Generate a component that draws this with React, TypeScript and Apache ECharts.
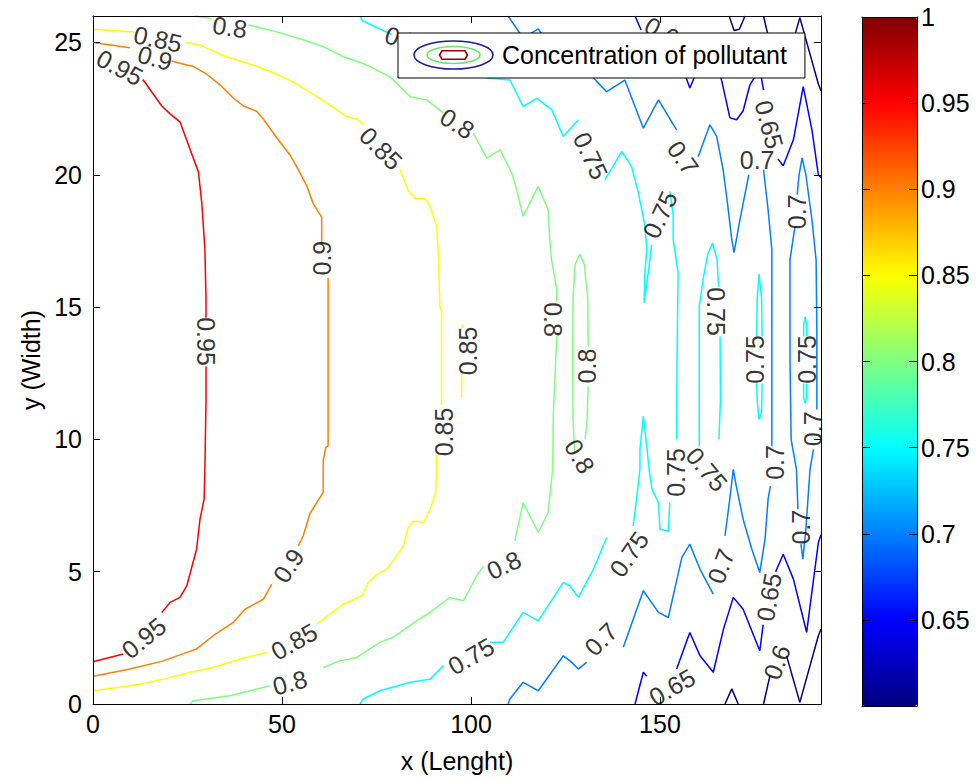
import React, { useEffect, useRef } from "react";
import * as echarts from "echarts";

const FONT = '"Liberation Sans", Arial, Helvetica, sans-serif';

// axis ranges
const xRange = [0, 192.6];
const yRange = [0, 26];
const cbRange = [0.6, 1];

// contour polylines per level (data units), split where inline labels sit
const c095 = [
  [[13.2,23.6],[18.2,22.6],[20.4,22.3],[23.0,22.0],[27.9,20.1],[28.8,18.9],[29.6,17.2],[29.9,15.3],[29.9,14.6]],
  [[29.9,12.75],[29.9,11.5],[29.6,8.87],[29.4,7.74],[28.3,6.98],[27.4,5.85],[24.8,4.46],[23.0,4.03],[20.4,3.84],[18.2,3.46]],
  [[8.0,1.89],[0,1.6]],
];
const l095 = [[7.1,24.06,-28],[29.9,13.7,-90],[13.4,2.5,39]];

const c090 = [
  [[0,25.0],[9.8,24.8]],
  [[20.8,24.3],[24.8,24.15],[26.5,24.1],[30.1,23.8],[33.6,23.4],[37.1,22.9],[39.8,22.6],[43.3,22.4],[45.1,22.1],[48.6,21.4],[52.1,20.75],[53.9,20.3],[56.5,19.6],[58.3,18.9],[60.5,18.4],[60.5,17.4]],
  [[62.2,16.1],[62.2,9.75],[61.6,9.7],[60.9,9.2],[60.9,8.0],[57.4,7.2],[55.6,6.35],[54.3,5.97]],
  [[47.3,4.53],[45.1,3.96],[40.2,3.58],[37.1,3.08],[31.8,2.58],[27.4,2.08],[24.8,1.95],[18.6,1.63],[9.8,1.32],[0,1.05]],
];
const l090 = [[16.4,24.42,-15],[60.6,16.85,90],[51.7,5.23,56]];

const c085 = [
  [[0,25.5],[10.7,25.4]],
  [[24.3,25.0],[28.3,24.9],[34.5,24.5],[38.9,24.3],[43.3,24.1],[48.6,23.8],[53.0,23.5],[56.5,23.2],[60.9,22.8],[64.5,22.45],[67.1,22.2],[69.8,22.1],[71.5,21.9]],
  [[81.2,20.2],[83.4,19.4],[85.2,19.1],[87.8,19.1],[89.2,18.8],[90.9,18.05],[91.3,17.2],[91.8,15.0],[92.2,14.9],[92.2,11.3]],
  [[90.9,9.4],[90.7,8.0],[89.2,7.36],[87.4,6.86],[84.7,6.92],[83.4,6.67],[82.1,5.97],[79.4,5.41],[77.7,5.09],[75.1,4.9],[72.8,4.59],[71.1,4.09],[66.2,3.77],[62.7,3.4],[60.9,3.2],[59.2,3.02]],
  [[46.0,1.95],[38.9,1.7],[31.8,1.38],[25.7,1.2],[18.6,0.94],[12.4,0.75],[4.5,0.59],[0,0.5]],
  [[97.6,12.45],[97.5,11.6]],
  [[97.7,14.35],[97.7,14.2]],
];
const l085 = [[17.2,25.13,-12],[76.2,21.0,-45],[92.9,10.28,90],[53.2,2.36,29],[99.3,13.34,90]];

const c080 = [
  [[27.0,26],[31.4,25.9]],
  [[41.1,25.66],[48.6,25.4],[55.6,25.1],[60.9,24.84],[66.2,24.46],[68.9,24.34],[72.4,24.15],[78.6,23.7],[83.9,22.95],[88.3,22.83],[90.0,22.64],[92.7,22.33]],
  [[100.6,21.57],[104.2,20.63],[107.7,20.94],[110.8,20.06],[111.6,19.69],[113.8,18.43],[117.8,19.56],[120.4,18.68],[120.9,17.42],[121.3,16.8],[122.7,15.66],[122.7,15.2]],
  [[122.7,13.9],[121.8,11.0],[121.6,8.87],[120.4,7.23],[117.8,6.48],[113.8,7.61],[111.6,6.16]],
  [[103.3,5.22],[101.5,4.84],[98.0,3.9],[94.4,4.03],[89.2,3.46],[85.6,3.14],[79.4,2.52],[75.9,2.33],[69.8,1.76],[65.3,1.63],[60.9,1.38]],
  [[46.8,0.69],[41.5,0.5],[36.2,0.31],[26.5,0.12],[25.7,0]],
  [[127.4,9.5],[127.0,10.8],[126.9,13.0],[127.0,15.3],[127.5,16.6],[128.8,17.0],[130.0,16.6],[130.9,15.3],[131.0,13.5]],
  [[131.0,12.0],[130.7,10.7],[130.2,10.0]],
];
const l080 = [[36.2,25.58,-8],[96.4,21.94,-32],[121.7,14.53,-90],[108.7,5.25,25],[52.1,0.81,15],[130.6,12.77,90],[128.8,9.36,-60]];

const c075 = [
  [[70.6,26.0],[71.4,25.81],[75.9,25.51],[79.0,25.3]],
  [[86.5,25.1],[89.2,25.06],[92.6,24.57],[98.4,24.11],[104.2,23.66],[110.3,23.58],[113.8,22.58],[117.4,22.89],[121.4,22.45],[124.4,21.45],[128.4,22.08]],
  [[135.4,19.81],[139.9,20.88],[142.5,20.31],[144.3,19.31],[146.0,18.11],[146.5,17.17],[146.0,16.29],[145.8,15.16],[146.9,16.29],[147.8,17.36]],
  [[152.6,19.37],[153.5,18.49],[153.5,17.55],[154.8,16.29],[154.5,13.02],[154.4,10.0]],
  [[152.6,7.61],[152.2,6.54],[150.0,6.6],[149.6,7.61],[147.9,8.11],[147.1,8.87],[146.6,9.62],[145.6,10.87],[144.7,9.62],[144.7,8.87],[143.8,7.74],[142.9,6.72]],
  [[135.9,6.29],[132.4,5.09],[128.4,4.03],[126.2,4.46],[124.4,4.59],[117.8,3.14],[113.8,3.46],[108.5,2.33],[105.0,2.33]],
  [[92.7,1.45],[89.2,0.94],[83.9,0.82],[75.9,0.5],[71.5,0.19],[70.6,0]],
  [[160.4,9.75],[160.4,15.03],[161.4,16.04],[162.6,16.98],[163.9,17.42],[165.1,16.79],[165.5,15.77]],
  [[165.9,13.89],[166.0,11.51],[165.6,10.0]],
  [[175.6,13.89],[175.7,15.28],[176.2,16.26],[176.9,15.28],[177.0,13.89]],
  [[177.0,12.11],[176.9,11.02],[176.2,10.75],[175.7,11.51],[175.6,12.11]],
  [[188.0,13.89],[188.0,14.34],[188.4,14.64],[188.8,14.34],[188.8,13.89]],
  [[188.8,12.11],[188.8,11.58],[188.4,11.36],[188.0,11.58],[188.0,12.11]],
];
const l075 = [[83.6,25.05,-18],[131.7,20.72,-65],[150.0,18.49,65],[154.2,8.75,90],[141.8,5.66,55],[100.0,1.81,30],[164.8,14.83,-90],[162.4,8.87,-50],[175.1,13.02,90],[188.8,13.02,90]];

const c070 = [
  [[109.8,0],[110.3,0.19],[113.8,0.82],[117.8,0.5],[124.4,1.82],[126.2,1.63],[128.4,1.32],[130.6,1.57]],
  [[140.3,2.14],[145.6,4.28],[149.6,3.46],[152.2,3.27],[155.8,5.54],[157.9,6.04],[160.6,5.09],[164.1,4.15]],
  [[167.2,6.35],[168.3,7.55],[169.4,8.87],[170.1,8.3],[172.0,6.98],[174.3,5.85],[176.4,4.97],[177.8,6.23],[178.6,7.74],[179.2,8.23]],
  [[179.6,9.74],[179.6,13.02],[179.6,17.17],[178.6,18.68],[177.4,20.19]],
  [[173.5,20.0],[172.2,19.06],[170.9,18.11],[169.6,17.06],[169.0,17.55],[167.9,18.87],[166.7,20.19],[165.0,21.45],[163.2,21.89],[160.1,20.68]],
  [[154.4,21.7],[149.6,22.83],[145.6,21.76],[140.7,23.58],[135.9,23.14],[133.3,23.52],[128.8,24.34],[124.4,24.19],[117.8,25.51],[113.8,25.17],[110.7,25.81],[109.8,26.0]],
  [[185.7,18.04],[184.4,16.79],[184.4,13.02],[184.7,10.0],[186.1,8.87],[186.5,7.36]],
  [[187.3,6.04],[187.8,5.47],[188.6,6.6],[189.7,8.87],[190.6,9.62]],
  [[191.5,11.13],[191.5,14.15],[191.3,16.79],[190.2,18.3],[188.6,20.0],[187.6,20.64],[186.8,20.0],[186.3,19.25]],
];
const l070 = [[134.4,2.45,45],[166.1,5.21,70],[180.4,9.13,90],[175.7,20.57,0],[156.1,20.64,-55],[187.3,6.68,90],[190.5,10.4,90],[186.2,18.6,90]];

const c065 = [
  [[143.4,0],[145.6,1.2],[146.5,1.05]],
  [[154.4,1.32],[157.9,2.7],[160.6,1.82],[164.1,1.2],[166.8,2.83],[169.4,4.03],[172.0,3.58],[176.4,2.01],[177.3,3.0]],
  [[180.6,5.0],[182.6,5.66],[185.3,4.72],[188.8,2.71],[191.9,6.1],[192.6,6.4]],
  [[143.4,26.0],[145.0,25.47]],
  [[154.4,24.68],[157.9,23.28],[160.6,24.19],[164.1,24.79],[166.4,23.51],[168.5,22.15],[170.3,22.08],[172.0,22.42],[173.8,23.4],[176.4,24.0],[177.4,23.2]],
  [[181.2,20.6],[182.6,20.34],[185.3,21.32],[187.9,23.33],[190.2,21.7],[191.9,20.0],[192.6,19.89]],
];
const l065 = [[153.2,0.64,30],[178.8,4.04,80],[152.1,25.28,-30],[178.9,21.9,-75]];

const c060 = [
  [[167.2,0],[169.0,0.57],[170.7,0]],
  [[177.4,0],[179.1,1.07]],
  [[183.5,1.82],[187.0,0.06],[191.9,2.58],[192.6,2.83]],
  [[168.3,26.0],[169.6,25.45],[171.0,25.5],[172.5,26.0]],
  [[177.4,26.0],[179.1,24.94]],
  [[183.5,24.19],[187.0,25.94],[191.9,23.43],[192.6,23.17]],
];
const l060 = [[180.9,1.58,70],[180.9,24.42,-70]];

const levels = [0.95, 0.9, 0.85, 0.8, 0.75, 0.7, 0.65, 0.6];
const levelLines = [c095, c090, c085, c080, c075, c070, c065, c060];
const levelLabels = [l095, l090, l085, l080, l075, l070, l065, l060];
const levelText = ["0.95", "0.9", "0.85", "0.8", "0.75", "0.7", "0.65", "0.6"];

const legendName = "Concentration of pollutant";

function clamp(v: number) { return Math.max(0, Math.min(1, v)); }
function jet(t: number) {
  const r = clamp(1.5 - Math.abs(4 * t - 3));
  const g = clamp(1.5 - Math.abs(4 * t - 2));
  const b = clamp(1.5 - Math.abs(4 * t - 1));
  return `rgb(${Math.round(r * 255)},${Math.round(g * 255)},${Math.round(b * 255)})`;
}

const iconSvg =
  "<svg xmlns='http://www.w3.org/2000/svg' width='84' height='30' viewBox='0 0 84 30'>" +
  "<ellipse cx='40.5' cy='15' rx='39.5' ry='14' fill='none' stroke='#1c1c9c' stroke-width='1.6'/>" +
  "<ellipse cx='40.5' cy='15' rx='26.5' ry='8.5' fill='none' stroke='#70e070' stroke-width='1.6'/>" +
  "<path d='M29 10.8 L52 10.8 L54.5 15 L52 19.2 L29 19.2 L26.5 15 Z' fill='none' stroke='#a00000' stroke-width='1.6'/>" +
  "</svg>";
const iconUrl = "image://data:image/svg+xml;charset=utf-8," + encodeURIComponent(iconSvg);

export default function App() {
  const ref = useRef<HTMLDivElement>(null);
  useEffect(() => {
    if (!ref.current) return;
    const chart = echarts.init(ref.current, null, { renderer: "svg" });
    const series: any[] = [];
    levels.forEach((lv, i) => {
      const color = jet((lv - cbRange[0]) / (cbRange[1] - cbRange[0]));
      levelLines[i].forEach((seg) => {
        series.push({
          type: "line",
          xAxisIndex: 0,
          yAxisIndex: 0,
          data: seg,
          symbol: "none",
          showSymbol: false,
          silent: true,
          clip: true,
          lineStyle: { color, width: 1.5 },
          itemStyle: { color },
          z: 2,
        });
      });
    });
    const labelData: any[] = [];
    levels.forEach((lv, i) => {
      levelLabels[i].forEach((l) => {
        labelData.push({ name: levelText[i], value: [l[0], l[1]], label: { rotate: l[2] } });
      });
    });
    series.push({
      type: "scatter",
      xAxisIndex: 0,
      yAxisIndex: 0,
      data: labelData,
      symbolSize: 1,
      itemStyle: { color: "rgba(0,0,0,0)" },
      silent: true,
      z: 5,
      label: {
        show: true,
        position: "inside",
        formatter: "{b}",
        fontSize: 25,
        color: "#000",
        fontFamily: FONT,
      },
    });
    series.push({
      type: "line",
      name: legendName,
      xAxisIndex: 0,
      yAxisIndex: 0,
      data: [],
      symbol: "none",
      lineStyle: { color: "#000080" },
    });
    const cbSeriesIndex = series.length;
    series.push({ type: "scatter", xAxisIndex: 2, yAxisIndex: 2, data: [], name: "cb" });

    const tickStyle = { fontSize: 25, color: "#000", fontFamily: FONT };
    const frameLine = { show: true, onZero: false, lineStyle: { color: "#000", width: 1 } };

    chart.setOption({
      animation: false,
      backgroundColor: "#fff",
      textStyle: { fontFamily: FONT },
      grid: [
        { left: 93, top: 16, width: 728, height: 689, containLabel: false },
        { left: 862, top: 17, width: 55, height: 689, containLabel: false },
      ],
      legend: {
        data: [{ name: legendName, icon: iconUrl }],
        left: 398,
        top: 33,
        orient: "horizontal",
        itemWidth: 84,
        itemHeight: 30,
        padding: [7, 18, 8, 15],
        backgroundColor: "#fff",
        borderColor: "#000",
        borderWidth: 1,
        selectedMode: false,
        textStyle: { fontSize: 25, color: "#000", fontFamily: FONT },
        z: 10,
      },
      visualMap: {
        type: "continuous",
        min: cbRange[0],
        max: cbRange[1],
        left: 862,
        top: 17,
        itemWidth: 55,
        itemHeight: 689,
        padding: 0,
        calculable: false,
        showLabel: false,
        seriesIndex: cbSeriesIndex,
        inRange: { color: [0, 1, 2, 3, 4, 5, 6, 7, 8].map((k) => jet(k / 8)) },
      },
      xAxis: [
        {
          type: "value", gridIndex: 0, position: "bottom", min: xRange[0], max: xRange[1], interval: 50,
          axisLine: frameLine,
          axisTick: { show: true, inside: true, length: 7, lineStyle: { color: "#000" } },
          splitLine: { show: false },
          axisLabel: { ...tickStyle, margin: 7, formatter: (v: number) => (v % 50 === 0 ? String(v) : "") },
          name: "x (Lenght)", nameLocation: "middle", nameGap: 44,
          nameTextStyle: { fontSize: 25, color: "#000", fontFamily: FONT },
          z: 10,
        },
        {
          type: "value", gridIndex: 0, position: "top", min: xRange[0], max: xRange[1], interval: 50,
          axisLine: frameLine,
          axisTick: { show: true, inside: true, length: 7, lineStyle: { color: "#000" } },
          splitLine: { show: false }, axisLabel: { show: false }, z: 10,
        },
        {
          type: "value", gridIndex: 1, position: "bottom", min: 0, max: 1,
          axisLine: frameLine, axisTick: { show: false }, splitLine: { show: false }, axisLabel: { show: false }, z: 10,
        },
        {
          type: "value", gridIndex: 1, position: "top", min: 0, max: 1,
          axisLine: frameLine, axisTick: { show: false }, splitLine: { show: false }, axisLabel: { show: false }, z: 10,
        },
      ],
      yAxis: [
        {
          type: "value", gridIndex: 0, position: "left", min: yRange[0], max: yRange[1], interval: 5,
          axisLine: frameLine,
          axisTick: { show: true, inside: true, length: 7, lineStyle: { color: "#000" } },
          splitLine: { show: false },
          axisLabel: { ...tickStyle, margin: 11, formatter: (v: number) => (v % 5 === 0 ? String(v) : "") },
          name: "y (Width)", nameLocation: "middle", nameGap: 47,
          nameTextStyle: { fontSize: 25, color: "#000", fontFamily: FONT },
          z: 10,
        },
        {
          type: "value", gridIndex: 0, position: "right", min: yRange[0], max: yRange[1], interval: 5,
          axisLine: frameLine,
          axisTick: { show: true, inside: true, length: 7, lineStyle: { color: "#000" } },
          splitLine: { show: false }, axisLabel: { show: false }, z: 10,
        },
        {
          type: "value", gridIndex: 1, position: "left", min: cbRange[0], max: cbRange[1], interval: 0.05,
          axisLine: frameLine,
          axisTick: { show: true, inside: true, length: 8, lineStyle: { color: "#000" } },
          splitLine: { show: false }, axisLabel: { show: false }, z: 10,
        },
        {
          type: "value", gridIndex: 1, position: "right", min: cbRange[0], max: cbRange[1], interval: 0.05,
          axisLine: frameLine,
          axisTick: { show: true, inside: true, length: 8, lineStyle: { color: "#000" } },
          splitLine: { show: false },
          axisLabel: {
            ...tickStyle, margin: 4,
            formatter: (v: number) => (v < 0.62 ? "" : String(Math.round(v * 100) / 100)),
          },
          z: 10,
        },
      ],
      series,
    });
    return () => chart.dispose();
  }, []);
  return (
    <div
      ref={ref}
      style={{ position: "fixed", left: 0, top: 0, width: 979, height: 778, background: "#fff" }}
    />
  );
}
